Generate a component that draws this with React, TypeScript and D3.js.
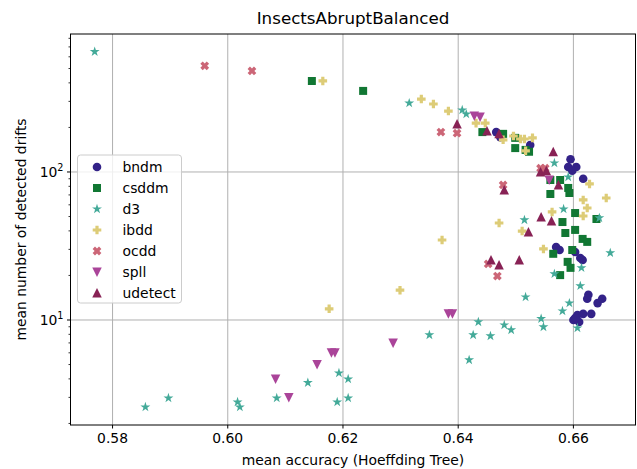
import React from "react";
import * as d3 from "d3";

type Pt = [number, number];

// mean accuracy, mean number of detected drifts
const bndm: Pt[] = [
  [0.6466, 186], [0.6473, 172], [0.6525, 152],
  [0.6595, 122], [0.6591, 108], [0.6605, 108], [0.6598, 102], [0.6617, 90],
  [0.657, 31.1], [0.6576, 29.7], [0.6603, 28.8], [0.6612, 26.2], [0.6616, 25.4],
  [0.6626, 14.8], [0.6624, 13.9], [0.6642, 13.0], [0.665, 13.9],
  [0.6607, 10.8], [0.6617, 11.0], [0.6631, 11.0], [0.66, 10.0], [0.661, 9.7], [0.6603, 10.3],
];

const csddm: Pt[] = [
  [0.6146, 412], [0.6235, 353],
  [0.6442, 186], [0.6478, 181], [0.6499, 170], [0.6499, 145], [0.6517, 141], [0.6523, 137],
  [0.656, 88.3], [0.6577, 88.3], [0.6591, 78], [0.656, 71], [0.6593, 72.1],
  [0.6603, 52.8], [0.664, 48.1], [0.6581, 45.9], [0.6586, 38.7], [0.6603, 40.6],
  [0.6616, 35.3], [0.6624, 33.7], [0.6565, 28], [0.6598, 29.7], [0.659, 24.7],
  [0.6595, 22.5], [0.6577, 20.1],
];

const d3det: Pt[] = [
  [0.5769, 650], [0.5857, 2.58], [0.5897, 2.97], [0.6017, 2.79], [0.6021, 2.58],
  [0.6085, 2.97], [0.6139, 3.77], [0.6193, 4.38], [0.6209, 3.99], [0.619, 2.79],
  [0.6209, 2.97], [0.635, 7.92], [0.6426, 7.92], [0.6419, 5.37], [0.6435, 9.7],
  [0.6456, 7.8], [0.648, 9.25], [0.6492, 8.56], [0.6517, 14.3], [0.6544, 10.2],
  [0.6548, 8.97], [0.6581, 11.5], [0.6593, 13.0], [0.6607, 8.83], [0.6612, 17.0],
  [0.6567, 20.5], [0.6614, 22.5], [0.6664, 28.4], [0.6515, 47.4], [0.6583, 56.2],
  [0.6645, 48.9], [0.6591, 92.5], [0.6567, 115], [0.6315, 292], [0.6407, 262],
  [0.6414, 246],
];

const ibdd: Pt[] = [
  [0.6165, 412], [0.6336, 311], [0.6357, 288], [0.6383, 258], [0.6431, 214],
  [0.6447, 214], [0.6478, 165], [0.6496, 175], [0.6508, 167], [0.6515, 167],
  [0.6529, 170], [0.6517, 139], [0.6628, 83], [0.6617, 64.7], [0.6657, 66.7],
  [0.6624, 57.1], [0.6617, 50.4], [0.6563, 53.7], [0.6471, 45.2], [0.6511, 39.9],
  [0.6372, 34.7], [0.6548, 30.2], [0.6299, 15.9], [0.6176, 11.9],
];

const ocdd: Pt[] = [
  [0.596, 522], [0.6042, 482], [0.637, 186], [0.6398, 183], [0.6543, 106],
  [0.6551, 106], [0.6478, 81.7], [0.6452, 23.9], [0.6468, 19.8],
];

const spll: Pt[] = [
  [0.6083, 4.0], [0.6106, 3.0], [0.6155, 5.0], [0.618, 6.0], [0.6186, 6.0],
  [0.6287, 7.0], [0.6383, 11.0], [0.639, 11.0], [0.6428, 239], [0.6438, 235],
  [0.6558, 88.3],
];

const udetect: Pt[] = [
  [0.6398, 211], [0.645, 189], [0.6471, 181], [0.6565, 137], [0.6543, 100],
  [0.6553, 102], [0.6574, 81.7], [0.648, 75.6], [0.6544, 49.6], [0.6562, 46.7],
  [0.6522, 39.3], [0.6457, 25.4], [0.6471, 23.5], [0.6506, 25.4],
];

const seriesNames = ["bndm", "csddm", "d3", "ibdd", "ocdd", "spll", "udetect"];
const seriesData = [bndm, csddm, d3det, ibdd, ocdd, spll, udetect];
const seriesColors = ["#332288", "#117733", "#44AA99", "#DDCC77", "#CC6677", "#AA4499", "#882255"];
const seriesShapes = ["circle", "square", "star", "plus", "cross", "tri-down", "tri-up"];

const xTicks = [0.58, 0.6, 0.62, 0.64, 0.66];
const yMajor = [10, 100];
const xDomain: [number, number] = [0.5727, 0.67078];
const yDomain: [number, number] = [1.952, 855.6];

const W = 637;
const H = 469;
const left = 70.5;
const right = 635.5;
const top = 34;
const bottom = 425;
const FONT = "DejaVu Sans, sans-serif";

function markerPath(shape: string): string {
  const pts: [number, number][] = [];
  if (shape === "square") {
    const h = 4;
    return `M${-h},${-h}H${h}V${h}H${-h}Z`;
  }
  if (shape === "star") {
    const ro = 5.2, ri = ro * 0.381966;
    for (let i = 0; i < 10; i++) {
      const r = i % 2 === 0 ? ro : ri;
      const a = -Math.PI / 2 + (i * Math.PI) / 5;
      pts.push([r * Math.cos(a), r * Math.sin(a)]);
    }
  } else if (shape === "plus" || shape === "cross") {
    const o = 4.3, t = 1.6;
    const base: [number, number][] = [
      [-t, -o], [t, -o], [t, -t], [o, -t], [o, t], [t, t],
      [t, o], [-t, o], [-t, t], [-o, t], [-o, -t], [-t, -t],
    ];
    const rot = shape === "cross" ? Math.PI / 4 : 0;
    const s = shape === "cross" ? 1.05 : 1;
    base.forEach(([x, y]) => {
      pts.push([
        s * (x * Math.cos(rot) - y * Math.sin(rot)),
        s * (x * Math.sin(rot) + y * Math.cos(rot)),
      ]);
    });
  } else if (shape === "tri-up" || shape === "tri-down") {
    const r = 5;
    const sgn = shape === "tri-up" ? 1 : -1;
    pts.push([0, -r * sgn], [r * 0.95, r * 0.9 * sgn], [-r * 0.95, r * 0.9 * sgn]);
  }
  return "M" + pts.map((p) => p.map((v) => v.toFixed(2)).join(",")).join("L") + "Z";
}

function Marker({ shape, color, x, y }: { shape: string; color: string; x: number; y: number }) {
  if (shape === "circle") return <circle cx={x} cy={y} r={4.3} fill={color} />;
  return <path d={markerPath(shape)} transform={`translate(${x},${y})`} fill={color} />;
}

export default function App() {
  const xs = d3.scaleLinear().domain(xDomain).range([left, right]);
  const ys = d3.scaleLog().domain(yDomain).range([bottom, top]);

  const minor: number[] = [];
  for (const dec of [1, 10, 100]) {
    for (let k = 2; k <= 9; k++) {
      const v = k * dec;
      if (v >= yDomain[0] && v <= yDomain[1]) minor.push(v);
    }
  }

  const legendTop = 155;
  const legendStep = 21;

  return (
    <svg
      width={W}
      height={H}
      style={{ position: "absolute", left: 0, top: 0, background: "#fff" }}
      fontFamily={FONT}
    >
      <rect x={0} y={0} width={W} height={H} fill="#fff" />
      {/* grid */}
      <g stroke="#b0b0b0" strokeWidth={1}>
        {xTicks.map((t) => (
          <line key={"gx" + t} x1={xs(t)} x2={xs(t)} y1={top} y2={bottom} />
        ))}
        {yMajor.map((t) => (
          <line key={"gy" + t} x1={left} x2={right} y1={ys(t)} y2={ys(t)} />
        ))}
      </g>

      {/* points */}
      {seriesData.map((data, si) => (
        <g key={seriesNames[si]}>
          {data.map((d, i) => (
            <Marker key={i} shape={seriesShapes[si]} color={seriesColors[si]} x={xs(d[0])} y={ys(d[1])} />
          ))}
        </g>
      ))}

      {/* frame */}
      <rect x={left} y={top} width={right - left} height={bottom - top} fill="none" stroke="#000" strokeWidth={1} />

      {/* x axis */}
      <g>
        {xTicks.map((t) => (
          <g key={"xt" + t}>
            <line x1={xs(t)} x2={xs(t)} y1={bottom} y2={bottom + 3.5} stroke="#000" />
            <text x={xs(t)} y={bottom + 18} textAnchor="middle" fontSize={13.9} fill="#000">
              {d3.format(".2f")(t)}
            </text>
          </g>
        ))}
        <text x={(left + right) / 2} y={H - 4} textAnchor="middle" fontSize={13.9} fill="#000">
          mean accuracy (Hoeffding Tree)
        </text>
      </g>

      {/* y axis */}
      <g>
        {minor.map((t) => (
          <line key={"ym" + t} x1={left - 2} x2={left} y1={ys(t)} y2={ys(t)} stroke="#000" strokeWidth={0.8} />
        ))}
        {yMajor.map((t, i) => (
          <g key={"yt" + t}>
            <line x1={left - 3.5} x2={left} y1={ys(t)} y2={ys(t)} stroke="#000" />
            <text x={left - 7} y={ys(t) + 5} textAnchor="end" fontSize={13.9} fill="#000">
              10
              <tspan dy={-6} fontSize={9.7}>{i + 1}</tspan>
            </text>
          </g>
        ))}
        <text
          transform={`translate(26,${(top + bottom) / 2}) rotate(-90)`}
          textAnchor="middle"
          fontSize={13.9}
          fill="#000"
        >
          mean number of detected drifts
        </text>
      </g>

      {/* title */}
      <text x={(left + right) / 2} y={top - 10} textAnchor="middle" fontSize={16.7} fill="#000">
        InsectsAbruptBalanced
      </text>

      {/* legend */}
      <g>
        <rect
          x={77.5}
          y={legendTop}
          width={104}
          height={148}
          rx={3}
          fill="#fff"
          fillOpacity={0.8}
          stroke="#cccccc"
        />
        {seriesNames.map((n, i) => (
          <g key={"lg" + n}>
            <Marker shape={seriesShapes[i]} color={seriesColors[i]} x={97} y={legendTop + 12 + i * legendStep} />
            <text x={122.5} y={legendTop + 17 + i * legendStep} fontSize={13.9} fill="#000">
              {n}
            </text>
          </g>
        ))}
      </g>
    </svg>
  );
}
